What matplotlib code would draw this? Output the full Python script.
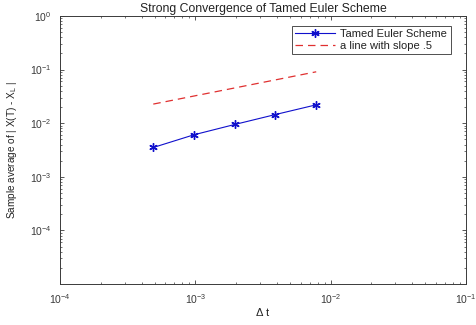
import matplotlib
matplotlib.use("Agg")
import matplotlib.pyplot as plt
from matplotlib.ticker import LogLocator, NullFormatter

dt = [2**-11, 2**-10, 2**-9, 2**-8, 2**-7]
err = [3.52e-3, 6.08e-3, 9.46e-3, 1.45e-2, 2.20e-2]
ref = [2.27e-2, 3.21e-2, 4.54e-2, 6.42e-2, 9.08e-2]

title = "Strong Convergence of Tamed Euler Scheme"
xlabel = r"$\Delta$ t"
ylabel = "Sample average of | X(T) - X$_{\\mathrm{L}}$ |"
labels = ["Tamed Euler Scheme", "a line with slope .5"]

plt.rcParams['font.family'] = ['Liberation Sans', 'DejaVu Sans']
plt.rcParams['mathtext.fontset'] = 'custom'
plt.rcParams['mathtext.rm'] = 'Liberation Sans'
plt.rcParams['mathtext.it'] = 'Liberation Sans'

fig = plt.figure(figsize=(4.77, 3.25), dpi=100)
ax = fig.add_axes([0.126, 0.126, 0.851, 0.825])
gray = '#3a3a3a'
ax.loglog(dt, err, color='#1010cc', marker=(6, 2, 0), markersize=6, markeredgewidth=1.0,
          linewidth=0.8, label=labels[0])
ax.loglog(dt, ref, color='#e03030', linestyle=(0, (6, 4)), linewidth=0.9, label=labels[1])
ax.set_xlim(1e-4, 1e-1)
ax.set_ylim(1e-5, 1e0)
ax.set_xticks([1e-4, 1e-3, 1e-2, 1e-1])
ax.set_yticks([1e-4, 1e-3, 1e-2, 1e-1, 1e0])
ax.xaxis.set_minor_locator(LogLocator(base=10, subs=range(2, 10)))
ax.yaxis.set_minor_locator(LogLocator(base=10, subs=range(2, 10)))
ax.xaxis.set_minor_formatter(NullFormatter())
ax.yaxis.set_minor_formatter(NullFormatter())
ax.tick_params(which='both', direction='in', top=True, right=True, colors=gray, labelsize=7.5)
ax.tick_params(which='major', length=3, width=0.6, pad=6)
ax.tick_params(which='minor', length=1.5, width=0.5)
for s in ax.spines.values():
    s.set_color(gray)
    s.set_linewidth(0.7)
ax.set_title(title, fontsize=8.8, color='#222222', pad=3)
ax.set_xlabel(xlabel, fontsize=8, color='#222222', labelpad=0)
ax.set_ylabel(ylabel, fontsize=7.2, color='#222222', labelpad=8)
leg = ax.legend(loc='upper right', fontsize=8, frameon=True, fancybox=False,
                edgecolor='#222222', borderpad=0.3, handlelength=3.6, handletextpad=0.5,
                labelspacing=0.15, borderaxespad=0,
                bbox_to_anchor=(0.962, 0.963))
leg.get_frame().set_linewidth(0.7)
for t in leg.get_texts():
    t.set_color('#222222')
fig.savefig("out.png", dpi=100)
